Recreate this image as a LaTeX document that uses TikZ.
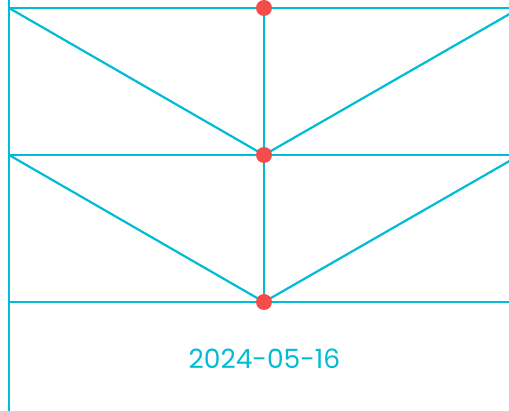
\documentclass[tikz,border=0pt]{standalone}
\usepackage{fontspec}
\setmainfont{Poppins}
\definecolor{cyanl}{HTML}{00BCD4}
\definecolor{redd}{HTML}{F44B4B}
\begin{document}
\begin{tikzpicture}[x=1pt,y=-1pt,
  ln/.style={draw=cyanl,line width=2.2pt},
  dot/.style={circle,fill=redd,inner sep=0pt,minimum size=16pt}]
\useasboundingbox (0,0) rectangle (509,411);
\clip (0,0) rectangle (509,411);
\coordinate (tl) at (9,8);
\coordinate (tr) at (520,8);
\coordinate (ml) at (9,155);
\coordinate (mr) at (520,155);
\coordinate (bl) at (9,302);
\coordinate (br) at (520,302);
\coordinate (vb) at (9,420);
\coordinate (t) at (264,8);
\coordinate (m) at (264,155);
\coordinate (b) at (264,302);
\draw[ln] (tl) -- (tr);
\draw[ln] (ml) -- (mr);
\draw[ln] (bl) -- (br);
\draw[ln] (9,0) -- (vb);
\draw[ln] (t) -- (b);
\draw[ln] (tl) -- (m) -- (tr);
\draw[ln] (ml) -- (b) -- (mr);
\node[dot] (dt) at (t) {};
\node[dot] (dm) at (m) {};
\node[dot] (db) at (b) {};
\node[text=cyanl,font=\fontsize{26.5}{30}\selectfont] (date) at (264.5,359) {2024-05-16};
\end{tikzpicture}
\end{document}
